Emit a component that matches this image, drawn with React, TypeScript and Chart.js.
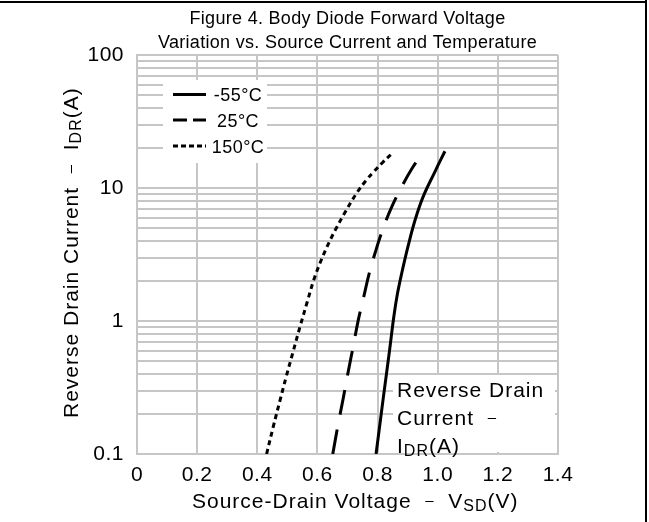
import React, { useEffect, useRef } from 'react';
import { Chart, registerables } from 'chart.js';

Chart.register(...registerables);

// ---------- data ----------
const seriesLabels = ['-55°C', '25°C', '150°C'];

const vsdM55 = [0.795, 0.819, 0.840, 0.854, 0.866, 0.880, 0.901, 0.925, 0.952, 0.991, 1.024];
const idrM55 = [0.1, 0.264, 0.605, 1.075, 1.60, 2.27, 3.62, 5.77, 8.65, 13.3, 18.9];

const vsd25 = [0.651, 0.668, 0.686, 0.703, 0.720, 0.736, 0.754, 0.772, 0.793, 0.817, 0.846, 0.880, 0.916, 0.954];
const idr25 = [0.1, 0.163, 0.264, 0.422, 0.662, 1.02, 1.52, 2.27, 3.32, 4.86, 7.11, 10.2, 14.2, 18.9];

const vsd150 = [0.431, 0.453, 0.476, 0.496, 0.518, 0.542, 0.566, 0.588, 0.609, 0.632, 0.660, 0.693, 0.727, 0.763, 0.788, 0.816, 0.847];
const idr150 = [0.1, 0.160, 0.255, 0.380, 0.576, 0.905, 1.39, 2.04, 2.74, 3.62, 4.86, 6.63, 8.90, 11.5, 13.3, 15.5, 18.1];

const xTickValues = [0, 0.2, 0.4, 0.6, 0.8, 1.0, 1.2, 1.4];
const xTickLabels = ['0', '0.2', '0.4', '0.6', '0.8', '1.0', '1.2', '1.4'];

const yGridValues = [
  0.1, 0.2, 0.3, 0.4, 0.5, 0.6, 0.7, 0.8, 0.9,
  1, 2, 3, 4, 5, 6, 7, 8, 9,
  10, 20, 30, 40, 50, 60, 70, 80, 90,
  100,
];
const yTickLabels = [
  '0.1', '', '', '', '', '', '', '', '',
  '1', '', '', '', '', '', '', '', '',
  '10', '', '', '', '', '', '', '', '',
  '100',
];

const titleLines = ['Figure 4. Body Diode Forward Voltage', 'Variation vs. Source Current and Temperature'];

// ---------- style ----------
const FONT = '"Liberation Sans", Arial, Helvetica, sans-serif';
const GRID = '#c6c6c6';

type Run = { t: string; s: number; dy?: number };

const xTitleRuns: Run[] = [
  { t: 'Source-Drain Voltage  ', s: 21 },
  { t: '–', s: 15, dy: -3 },
  { t: '  V', s: 21 },
  { t: 'SD', s: 16, dy: 3 },
  { t: '(V)', s: 21 },
];
const yTitleRuns: Run[] = [
  { t: 'Reverse Drain Current  ', s: 21 },
  { t: '–', s: 15, dy: -3 },
  { t: '  I', s: 21 },
  { t: 'DR', s: 16, dy: 3 },
  { t: '(A)', s: 21 },
];
const noteLines: Run[][] = [
  [{ t: 'Reverse Drain', s: 21 }],
  [{ t: 'Current  ', s: 21 }, { t: '–', s: 15, dy: -3 }],
  [{ t: 'I', s: 21 }, { t: 'DR', s: 16, dy: 3 }, { t: '(A)', s: 21 }],
];

const dashes: number[][] = [[], [25, 15], [5, 4]];
const legendDashes: number[][] = [[], [14, 6], [5, 3]];

function drawRuns(ctx: CanvasRenderingContext2D, runs: Run[], x: number, y: number) {
  let cx = x;
  for (const r of runs) {
    ctx.font = `${r.s}px ${FONT}`;
    ctx.fillText(r.t, cx, y + (r.dy || 0));
    cx += ctx.measureText(r.t).width;
  }
}

const decorPlugin = {
  id: 'decor',
  beforeDraw(chart: any) {
    (chart.ctx as any).letterSpacing = '0.5px';
  },
  afterDraw(chart: any) {
    const ctx: CanvasRenderingContext2D = chart.ctx;
    const ca = chart.chartArea;
    ctx.save();
    (ctx as any).letterSpacing = '0px';

    // outer frame (top + right)
    ctx.fillStyle = '#000';
    ctx.fillRect(0, 1, 647, 2);
    ctx.fillRect(645, 0, 2, chart.height);

    // title
    ctx.fillStyle = '#000';
    ctx.textAlign = 'center';
    ctx.textBaseline = 'alphabetic';
    (ctx as any).letterSpacing = '0.3px';
    ctx.font = `18px ${FONT}`;
    const cx = (ca.left + ca.right) / 2;
    ctx.fillText(titleLines[0], cx, 24);
    ctx.fillText(titleLines[1], cx, 48);

    // x axis title
    (ctx as any).letterSpacing = '1px';
    ctx.textAlign = 'left';
    drawRuns(ctx, xTitleRuns, 192, 508);

    // y axis title (rotated)
    ctx.save();
    ctx.translate(78, 418);
    ctx.rotate(-Math.PI / 2);
    drawRuns(ctx, yTitleRuns, 0, 0);
    ctx.restore();

    // legend
    const lx = ca.left + 26, ly = ca.top + 25;
    ctx.fillStyle = '#fff';
    ctx.fillRect(lx, ly, 104, 83);
    const rows = [ca.top + 39.5, ca.top + 65, ca.top + 91];
    ctx.strokeStyle = '#000';
    ctx.lineWidth = 3;
    ctx.lineCap = 'butt';
    for (let i = 0; i < 3; i++) {
      ctx.setLineDash(legendDashes[i]);
      ctx.beginPath();
      ctx.moveTo(ca.left + 36, rows[i]);
      ctx.lineTo(ca.left + 69, rows[i]);
      ctx.stroke();
    }
    ctx.setLineDash([]);
    ctx.fillStyle = '#000';
    ctx.textAlign = 'center';
    (ctx as any).letterSpacing = '0.5px';
    ctx.font = `18px ${FONT}`;
    for (let i = 0; i < 3; i++) {
      ctx.fillText(seriesLabels[i], ca.left + 101, rows[i] + 6.6);
    }

    // annotation
    ctx.fillStyle = '#fff';
    ctx.fillRect(ca.left + 256, 375, 162, 77);
    ctx.fillStyle = '#000';
    ctx.textAlign = 'left';
    (ctx as any).letterSpacing = '1px';
    drawRuns(ctx, noteLines[0], 397, 397);
    drawRuns(ctx, noteLines[1], 397, 425);
    drawRuns(ctx, noteLines[2], 397, 453);

    ctx.restore();
  },
};

function makeSeries(xs: number[], ys: number[]) {
  return xs.map((x, i) => ({ x, y: ys[i] }));
}

export default function App() {
  const ref = useRef<HTMLCanvasElement | null>(null);

  useEffect(() => {
    const canvas = ref.current;
    if (!canvas) return;
    const seriesData = [makeSeries(vsdM55, idrM55), makeSeries(vsd25, idr25), makeSeries(vsd150, idr150)];
    const chart = new Chart(canvas, {
      type: 'scatter',
      data: {
        datasets: seriesData.map((d, i) => ({
          label: seriesLabels[i],
          data: d,
          showLine: true,
          borderColor: '#000',
          backgroundColor: '#000',
          borderWidth: 3,
          borderDash: dashes[i],
          borderCapStyle: 'butt',
          borderJoinStyle: 'round',
          pointRadius: 0,
          tension: 0.4,
          fill: false,
        })),
      },
      options: {
        responsive: false,
        animation: false,
        devicePixelRatio: 1,
        layout: { padding: { left: 0, top: 55, right: 91, bottom: 0 } },
        plugins: {
          legend: { display: false },
          tooltip: { enabled: false },
          title: { display: false },
        },
        scales: {
          x: {
            type: 'linear',
            min: 0,
            max: 1.4,
            afterBuildTicks: (s: any) => {
              s.ticks = xTickValues.map((v) => ({ value: v }));
            },
            afterFit: (s: any) => {
              s.height = 68;
            },
            grid: { color: GRID, lineWidth: 2, drawTicks: false },
            border: { display: true, color: GRID, width: 2 },
            ticks: {
              autoSkip: false,
              maxRotation: 0,
              padding: 9,
              color: '#000',
              font: { family: FONT, size: 21 },
              callback: (_v: any, i: number) => xTickLabels[i],
            },
          },
          y: {
            type: 'logarithmic',
            min: 0.1,
            max: 100,
            afterBuildTicks: (s: any) => {
              s.ticks = yGridValues.map((v) => ({ value: v }));
            },
            afterFit: (s: any) => {
              s.width = 137;
            },
            grid: { color: GRID, lineWidth: 2, drawTicks: false },
            border: { display: true, color: GRID, width: 2 },
            ticks: {
              autoSkip: false,
              padding: 13,
              color: '#000',
              font: { family: FONT, size: 21 },
              callback: (_v: any, i: number) => yTickLabels[i],
            },
          },
        },
      },
      plugins: [decorPlugin],
    } as any);
    return () => chart.destroy();
  }, []);

  return (
    <div style={{ position: 'fixed', left: 0, top: 0, width: 649, height: 522, background: '#fff' }}>
      <canvas ref={ref} width={649} height={522} style={{ display: 'block', width: 649, height: 522 }} />
    </div>
  );
}
